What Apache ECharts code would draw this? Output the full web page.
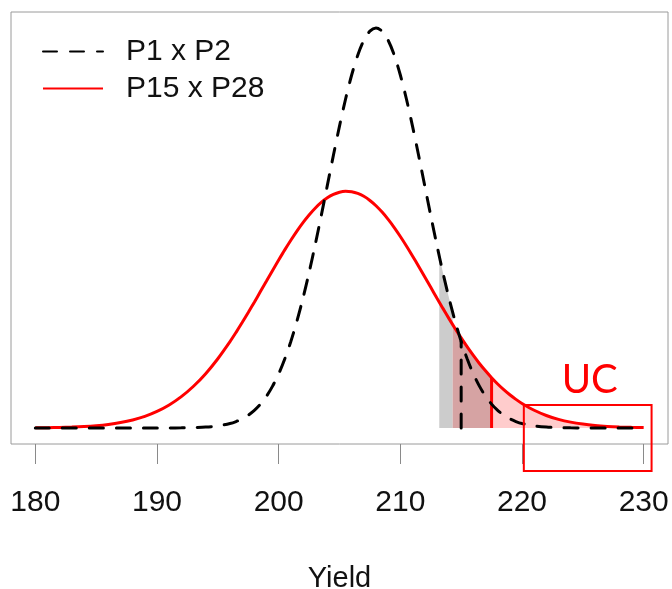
<!DOCTYPE html>
<html><head><meta charset="utf-8">
<script src="https://cdn.jsdelivr.net/npm/echarts@6/dist/echarts.min.js"></script>
<style>html,body{margin:0;padding:0;background:#fff}#c{width:672px;height:589px}</style>
</head><body><div id="c"></div>
<script>
// ---- data ----
const yieldGrid = [180,181,182,183,184,185,186,187,188,189,190,191,192,193,194,195,196,
  196.5,197,197.5,198,198.5,199,199.5,200,200.5,201,201.5,202,202.5,203,203.5,204,204.5,205,205.5,206,
  206.5,207,207.5,208,208.5,209,209.5,210,210.5,211,211.5,212,212.5,213,213.5,214,214.5,215,215.5,216,
  216.5,217,217.5,218,218.5,219,219.5,
  220,221,222,223,224,225,226,227,228,229,230];
const densityP1xP2 = [0,0,0,0,0,0,0,0,0,0,0,0.00001,0.00003,0.00009,0.00022,0.00051,0.00111,
  0.00160,0.00227,0.00318,0.00438,0.00594,0.00793,0.01043,0.01349,0.01719,0.02156,
  0.02663,0.03237,0.03874,0.04565,0.05295,0.06047,0.06799,0.07526,0.08201,0.08799,
  0.09293,0.09663,0.09892,0.0997,0.09892,0.09663,0.09293,0.08799,0.08201,0.07526,
  0.06799,0.06047,0.05295,0.04565,0.03874,0.03237,0.02663,0.02156,0.01719,0.01349,
  0.01043,0.00793,0.00594,0.00438,0.00318,0.00227,0.00160,
  0.00111,0.00051,0.00022,0.00009,0.00003,0.00001,0,0,0,0,0];
const densityP15xP28 = [0.000045,0.000079,0.000133,0.000221,0.000358,0.000568,0.000882,0.00134,0.00199,0.00289,0.00412,
  0.00573,0.00780,0.01039,0.01354,0.01726,0.02152,
  0.02384,0.02627,0.02878,0.03136,0.03399,0.03663,0.03927,0.04186,0.04439,0.04680,
  0.04909,0.05120,0.05311,0.05479,0.05622,0.05737,0.05822,0.05877,0.05899,0.05890,
  0.05848,0.05775,0.05672,0.05540,0.05381,0.05199,0.04996,0.04774,0.04537,0.04289,
  0.04032,0.03769,0.03505,0.03241,0.02981,0.02726,0.02480,0.02244,0.02019,0.01807,
  0.01608,0.01424,0.01253,0.01097,0.00955,0.00827,0.00713,
  0.00610,0.00441,0.00311,0.00215,0.00145,0.00096,0.00062,0.00039,0.00024,0.00015,0.00009];
const tickValues = [180,190,200,210,220,230];
const seriesNames = ['P1 x P2', 'P15 x P28'];
const axisTitle = 'Yield';
const grayShadeRange = [213.2, 214.3];   // under P1 x P2
const darkShadeRange = [214.3, 217.5];   // under P15 x P28
const pinkShadeRange = [217.5, 230];     // under P15 x P28
const cutoffP1xP2 = [215, 0.02156];
const cutoffP15xP28 = [217.5, 0.01253];
const ucLabel = 'UC';
const ucRange = [220.15, 230.65];

// ---- helpers ----
function pairs(xs, ys) { return xs.map((x, i) => [x, ys[i]]); }
function valueAt(xs, ys, x) {
  for (let i = 0; i < xs.length - 1; i++) {
    if (x >= xs[i] && x <= xs[i + 1]) {
      const t = (x - xs[i]) / (xs[i + 1] - xs[i]);
      return ys[i] + t * (ys[i + 1] - ys[i]);
    }
  }
  return ys[ys.length - 1];
}
function shadePoints(xs, ys, a, b) {
  const pts = [[a, 0], [a, valueAt(xs, ys, a)]];
  xs.forEach((x, i) => { if (x > a && x < b) pts.push([x, ys[i]]); });
  pts.push([b, valueAt(xs, ys, b)], [b, 0]);
  return pts;
}
function shadeSeries(ys, range, color) {
  return {
    type: 'custom', silent: true, z: 1, coordinateSystem: 'cartesian2d',
    data: [[range[0], 0]],
    renderItem: function (params, api) {
      const pts = shadePoints(yieldGrid, ys, range[0], range[1]).map(p => api.coord(p));
      return { type: 'polygon', shape: { points: pts }, style: { fill: color } };
    }
  };
}

const FONT = "'Liberation Sans', Arial, Helvetica, sans-serif";
const chart = echarts.init(document.getElementById('c'), null, { renderer: 'canvas' });

chart.setOption({
  animation: false,
  backgroundColor: '#fff',
  grid: { left: 11, top: 12, right: 4, bottom: 145, show: true, containLabel: false, outerBoundsMode: 'none',
          borderColor: '#9a9a9a', borderWidth: 1, backgroundColor: 'transparent' },
  legend: {
    data: seriesNames, orient: 'vertical', left: 37, top: 31,
    itemWidth: 60, itemHeight: 20, itemGap: 6,
    itemStyle: { opacity: 0, color: 'rgba(0,0,0,0)', borderWidth: 0 },
    textStyle: { fontFamily: FONT, fontSize: 30, color: '#111', lineHeight: 31, padding: [0, 0, 0, 18] },
    selectedMode: false
  },
  xAxis: {
    type: 'value', min: 178, max: 232,
    axisLine: { show: false, onZero: false },
    splitLine: { show: false },
    axisTick: { show: true, inside: false, length: 20, lineStyle: { color: '#8a8a8a', width: 1 }, customValues: tickValues },
    axisLabel: { fontFamily: FONT, fontSize: 30, color: '#111', margin: 44, customValues: tickValues },
    name: axisTitle, nameLocation: 'middle', nameGap: 120,
    nameTextStyle: { fontFamily: FONT, fontSize: 29, color: '#111' }
  },
  yAxis: { type: 'value', min: -0.004, max: 0.1037, show: false, splitLine: { show: false } },
  series: [
    shadeSeries(densityP1xP2, grayShadeRange, '#cccccc'),
    shadeSeries(densityP15xP28, darkShadeRange, '#d6a3a3'),
    shadeSeries(densityP15xP28, pinkShadeRange, '#ffcccc'),
    {
      name: seriesNames[1], type: 'line', z: 3, smooth: 0.3, symbol: 'none',
      data: pairs(yieldGrid, densityP15xP28),
      lineStyle: { color: '#ff0000', width: 3 }, itemStyle: { color: '#ff0000' }
    },
    {
      name: seriesNames[0], type: 'line', z: 4, smooth: 0.3, symbol: 'none',
      data: pairs(yieldGrid, densityP1xP2),
      lineStyle: { color: '#000', width: 3, type: [14, 13], cap: 'round' }, itemStyle: { color: '#000' }
    },
    {
      name: 'cutoff1', type: 'line', z: 4, symbol: 'none', silent: true,
      data: [[cutoffP1xP2[0], 0], cutoffP1xP2],
      lineStyle: { color: '#000', width: 3, type: [14, 13], cap: 'round' }
    },
    {
      name: 'cutoff2', type: 'line', z: 3, symbol: 'none', silent: true,
      data: [[cutoffP15xP28[0], 0], cutoffP15xP28],
      lineStyle: { color: '#ff0000', width: 3 }
    }
  ]
});

const xa = chart.convertToPixel({ gridIndex: 0 }, [ucRange[0], 0])[0];
const xb = chart.convertToPixel({ gridIndex: 0 }, [ucRange[1], 0])[0];
chart.setOption({
  graphic: [
    { type: 'rect', z: 10, shape: { x: xa, y: 405, width: xb - xa, height: 66 },
      style: { fill: 'none', stroke: '#ff0000', lineWidth: 2 } },
    { type: 'text', z: 10, x: (xa + xb) / 2 + 2, y: 380,
      style: { text: ucLabel, fill: '#ff0000', font: "40px Lato, 'Open Sans', sans-serif", align: 'center', verticalAlign: 'middle' } }
  ]
});
</script></body></html>
